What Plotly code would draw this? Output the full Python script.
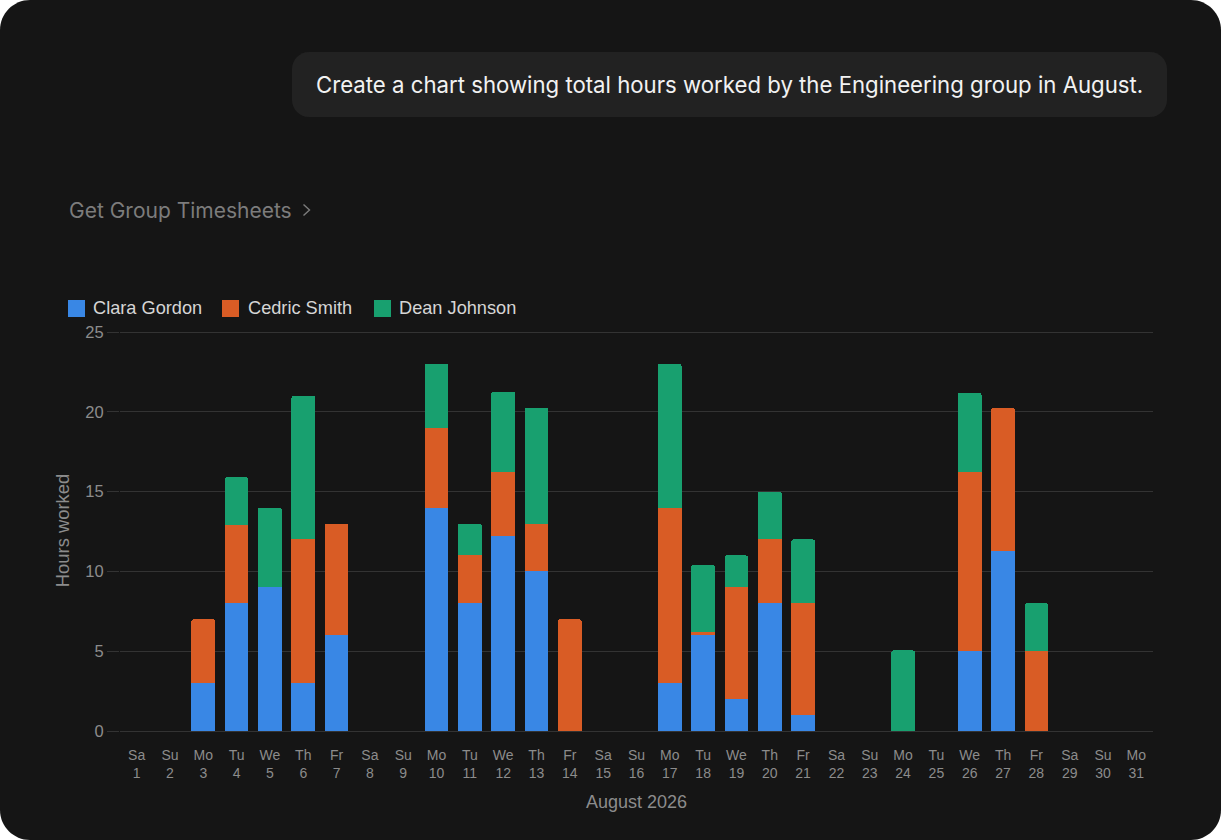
import plotly.graph_objects as go

W, H = 1221, 840
L, R, T, B = 120, 1153, 330, 731

weekdays = ["Sa","Su","Mo","Tu","We","Th","Fr","Sa","Su","Mo","Tu","We","Th","Fr","Sa","Su",
            "Mo","Tu","We","Th","Fr","Sa","Su","Mo","Tu","We","Th","Fr","Sa","Su","Mo"]
day_numbers = list(range(1, 32))
categories = [f"{w}<br>{d}" for w, d in zip(weekdays, day_numbers)]

clara = [0,0,3,8,9,3,6,0,0,14,8,12.2,10,0,0,0,3,6,2,8,1,0,0,0,0,5,11.25,0,0,0,0]
cedric = [0,0,4,4.9,0,9,7,0,0,5,3,4.05,3,7,0,0,11,0.2,7,4,7,0,0,0,0,11.25,9,5,0,0,0]
dean = [0,0,0,3,5,9,0,0,0,4,2,5,7.25,0,0,0,9,4.2,2,3,4,0,0,5.05,0,4.95,0,3,0,0,0]

series_names = ["Clara Gordon", "Cedric Smith", "Dean Johnson"]
series_values = [clara, cedric, dean]
series_colors = ["#3987E5", "#D95C25", "#18A06F"]
legend_swatch_x = [68, 222, 374]
legend_text_x = [91, 246, 397]

prompt_text = "Create a chart showing total hours worked by the Engineering group in August."
tool_text = "Get Group Timesheets"
x_title = "August 2026"
y_title = "Hours worked"
y_ticks = [0, 5, 10, 15, 20, 25]

FONT = "Liberation Sans"
UI_FONT = "Inter"


def px(x):
    return (x - L) / (R - L)


def py(y):
    return (B - y) / (B - T)


def rounded(x0, y0, x1, y1, r):
    k = 0.45 * r
    p = [
        f"M{px(x0 + r)},{py(y0)}", f"L{px(x1 - r)},{py(y0)}",
        f"C{px(x1 - k)},{py(y0)} {px(x1)},{py(y0 + k)} {px(x1)},{py(y0 + r)}",
        f"L{px(x1)},{py(y1 - r)}",
        f"C{px(x1)},{py(y1 - k)} {px(x1 - k)},{py(y1)} {px(x1 - r)},{py(y1)}",
        f"L{px(x0 + r)},{py(y1)}",
        f"C{px(x0 + k)},{py(y1)} {px(x0)},{py(y1 - k)} {px(x0)},{py(y1 - r)}",
        f"L{px(x0)},{py(y0 + r)}",
        f"C{px(x0)},{py(y0 + k)} {px(x0 + k)},{py(y0)} {px(x0 + r)},{py(y0)}", "Z",
    ]
    return " ".join(p)


fig = go.Figure()
for name, vals, col in zip(series_names, series_values, series_colors):
    fig.add_trace(go.Bar(name=name, x=categories, y=vals, marker=dict(color=col, line=dict(width=0)),
                         showlegend=False))

shapes = [
    dict(type="path", xref="paper", yref="paper", layer="below", path=rounded(0, 0, W, H, 30),
         fillcolor="#151515", line=dict(width=0)),
    dict(type="path", xref="paper", yref="paper", layer="below", path=rounded(292, 52, 1167, 117, 17),
         fillcolor="#222222", line=dict(width=0)),
    # chevron after the tool name
    dict(type="path", xref="paper", yref="paper",
         path=f"M{px(303.5)},{py(204.5)} L{px(309.5)},{py(210)} L{px(303.5)},{py(215.5)}",
         line=dict(color="#7c7c7c", width=1.4)),
]
annotations = [
    dict(text=prompt_text, x=px(314), y=py(84.5), xref="paper", yref="paper", xanchor="left", yanchor="middle",
         showarrow=False, font=dict(family=UI_FONT, size=22.2, color="#F2F2F2")),
    dict(text=tool_text, x=px(67), y=py(211), xref="paper", yref="paper", xanchor="left", yanchor="middle",
         showarrow=False, font=dict(family=UI_FONT, size=21, color="#7C7C7C")),
]
for sx, tx, name, col in zip(legend_swatch_x, legend_text_x, series_names, series_colors):
    shapes.append(dict(type="rect", xref="paper", yref="paper", x0=px(sx), x1=px(sx + 17),
                       y0=py(300), y1=py(317), fillcolor=col, line=dict(width=0)))
    annotations.append(dict(text=name, x=px(tx), y=py(308), xref="paper", yref="paper",
                            xanchor="left", yanchor="middle", showarrow=False,
                            font=dict(family=FONT, size=18.2, color="#D6D6D6")))

fig.update_layout(
    width=W, height=H, autosize=False,
    margin=dict(l=L, r=W - R, t=T, b=H - B, pad=0),
    paper_bgcolor="#FFFFFF", plot_bgcolor="rgba(0,0,0,0)",
    barmode="stack", bargap=0.29, barcornerradius=2.5,
    showlegend=False, shapes=shapes, annotations=annotations,
    font=dict(family=FONT, color="#8C8C8C"),
    xaxis=dict(type="category", tickfont=dict(size=14, color="#8C8C8C"), showgrid=False, zeroline=False,
               ticks="outside", ticklen=11, tickcolor="rgba(0,0,0,0)", showline=False,
               title=dict(text=x_title, font=dict(size=18, color="#8C8C8C"), standoff=15)),
    yaxis=dict(range=[0, 25.125], tickvals=y_ticks, tickfont=dict(size=16.5, color="#8C8C8C"),
               gridcolor="#333333", gridwidth=1, zeroline=True, zerolinecolor="#333333", zerolinewidth=1,
               ticks="outside", ticklen=12, tickcolor="#333333", showline=False,
               title=dict(text=y_title, font=dict(size=18.4, color="#8C8C8C"), standoff=10)),
)

fig.write_html("out.html", config={"displayModeBar": False},
               post_script="document.body.style.margin='0';document.documentElement.style.overflow='hidden';")
